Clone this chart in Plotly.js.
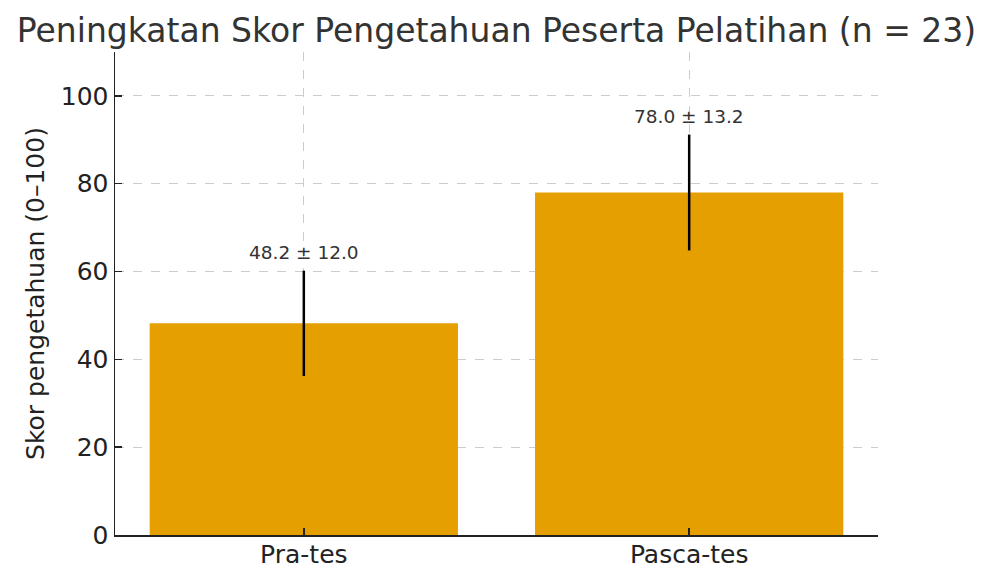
<!DOCTYPE html>
<html>
<head>
<meta charset="utf-8">
<script src="https://cdn.plot.ly/plotly-3.0.1.min.js"></script>
<style>
  body { margin: 0; background: #fff; }
  #chart { width: 993px; height: 582px; }
</style>
</head>
<body>
<div id="chart"></div>
<script>
// data
const groups = ["Pra-tes", "Pasca-tes"];
const means = [48.2, 78.0];
const sds = [12.0, 13.2];

const labels = means.map((m, i) => `${m.toFixed(1)} ± ${sds[i].toFixed(1)}`);

const barTrace = {
  x: groups,
  y: means,
  type: 'bar',
  width: 0.8,
  marker: { color: '#E69F00' },
  error_y: {
    type: 'data',
    array: sds,
    visible: true,
    color: '#000000',
    thickness: 2.5,
    width: 0
  },
  hoverinfo: 'skip'
};

const annotations = groups.map((g, i) => ({
  x: g,
  y: means[i] + sds[i] + 1.2,
  text: labels[i],
  showarrow: false,
  xanchor: 'center',
  yanchor: 'bottom',
  font: { family: 'DejaVu Sans', size: 18.5, color: '#333333' }
}));

const layout = {
  width: 993,
  height: 582,
  margin: { l: 115, r: 115, t: 52, b: 47 },
  paper_bgcolor: '#ffffff',
  plot_bgcolor: '#ffffff',
  font: { family: 'DejaVu Sans', color: '#222222' },
  title: {
    text: 'Peningkatan Skor Pengetahuan Peserta Pelatihan (n = 23)',
    font: { family: 'DejaVu Sans', size: 33, color: '#333333' },
    x: 0.5,
    xanchor: 'center',
    y: 0.948,
    yanchor: 'middle'
  },
  xaxis: {
    type: 'category',
    range: [-0.49, 1.49],
    showline: true,
    linecolor: '#222222',
    linewidth: 1.5,
    ticks: 'inside',
    ticklen: 7,
    tickwidth: 1.5,
    tickcolor: '#222222',
    tickfont: { size: 25, color: '#222222' },
    ticklabelstandoff: -4,
    showgrid: true,
    gridcolor: '#cccccc',
    griddash: 'dash',
    gridwidth: 1,
    zeroline: false
  },
  yaxis: {
    range: [0, 110],
    tickvals: [0, 20, 40, 60, 80, 100],
    showline: true,
    linecolor: '#222222',
    linewidth: 1.5,
    ticks: 'inside',
    ticklen: 7,
    tickwidth: 1.5,
    tickcolor: '#222222',
    tickfont: { size: 25, color: '#222222' },
    ticklabelstandoff: 0,
    showgrid: true,
    gridcolor: '#cccccc',
    griddash: 'dash',
    gridwidth: 1,
    zeroline: false,
    title: {
      text: 'Skor pengetahuan (0–100)',
      font: { size: 25, color: '#222222' },
      standoff: 9
    }
  },
  annotations: annotations,
  showlegend: false,
  bargap: 0.2
};

Plotly.newPlot('chart', [barTrace], layout, { displayModeBar: false, staticPlot: true });
</script>
</body>
</html>
